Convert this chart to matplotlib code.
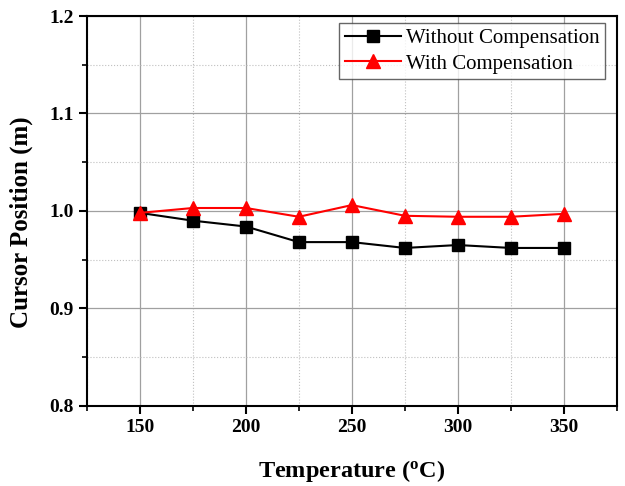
import matplotlib
matplotlib.use("Agg")
import matplotlib.pyplot as plt
from matplotlib.ticker import MultipleLocator

temps = [150, 175, 200, 225, 250, 275, 300, 325, 350]
without_comp = [0.998, 0.990, 0.984, 0.968, 0.968, 0.962, 0.965, 0.962, 0.962]
with_comp = [0.998, 1.003, 1.003, 0.994, 1.006, 0.995, 0.994, 0.994, 0.997]

plt.rcParams['font.family'] = ['Liberation Serif']
plt.rcParams['mathtext.fontset'] = 'custom'
plt.rcParams['mathtext.rm'] = 'Liberation Serif:bold'
plt.rcParams['mathtext.it'] = 'Liberation Serif:bold'
plt.rcParams['mathtext.bf'] = 'Liberation Serif:bold'

fig = plt.figure(figsize=(6.25, 4.86), dpi=100)
ax = fig.add_axes([0.139, 0.165, 0.848, 0.802])

ax.plot(temps, without_comp, color='black', marker='s', markersize=8, lw=1.5,
        label='Without Compensation', zorder=3)
ax.plot(temps, with_comp, color='red', marker='^', markersize=9.5, lw=1.5,
        label='With Compensation', zorder=3)

ax.set_xlim(125, 375)
ax.set_ylim(0.8, 1.2)
ax.xaxis.set_major_locator(MultipleLocator(50))
ax.xaxis.set_minor_locator(MultipleLocator(25))
ax.yaxis.set_major_locator(MultipleLocator(0.1))
ax.yaxis.set_minor_locator(MultipleLocator(0.05))
ax.set_yticks([0.8, 0.9, 1.0, 1.1, 1.2])
ax.set_yticklabels(['0.8', '0.9', '1.0', '1.1', '1.2'])

ax.grid(which='major', color='#a0a0a0', lw=0.9, ls='-')
ax.grid(which='minor', color='#c0c0c0', lw=0.8, ls=':')
ax.set_axisbelow(True)

ax.tick_params(which='major', direction='out', length=6, width=1.5, labelsize=14)
ax.tick_params(which='minor', direction='out', length=3.5, width=1.2)
ax.tick_params(top=False, right=False, which='both')
for lab in ax.get_xticklabels() + ax.get_yticklabels():
    lab.set_fontweight('bold')
for s in ax.spines.values():
    s.set_linewidth(1.5)

ax.set_xlabel(r'Temperature ($^{\mathrm{o}}$C)', fontsize=17.5, fontweight='bold', labelpad=16)
ax.set_ylabel('Cursor Position (m)', fontsize=18, fontweight='bold')
ax.yaxis.set_label_coords(-0.102, 0.47)

leg = ax.legend(loc='upper right', bbox_to_anchor=(0.9775, 0.982), fontsize=15,
                frameon=True, fancybox=False, edgecolor='#404040', borderaxespad=0,
                handlelength=2.7, handletextpad=0.25, labelspacing=0.3, borderpad=0.25)
leg.get_frame().set_linewidth(1.0)

fig.savefig('out.png', dpi=100)
